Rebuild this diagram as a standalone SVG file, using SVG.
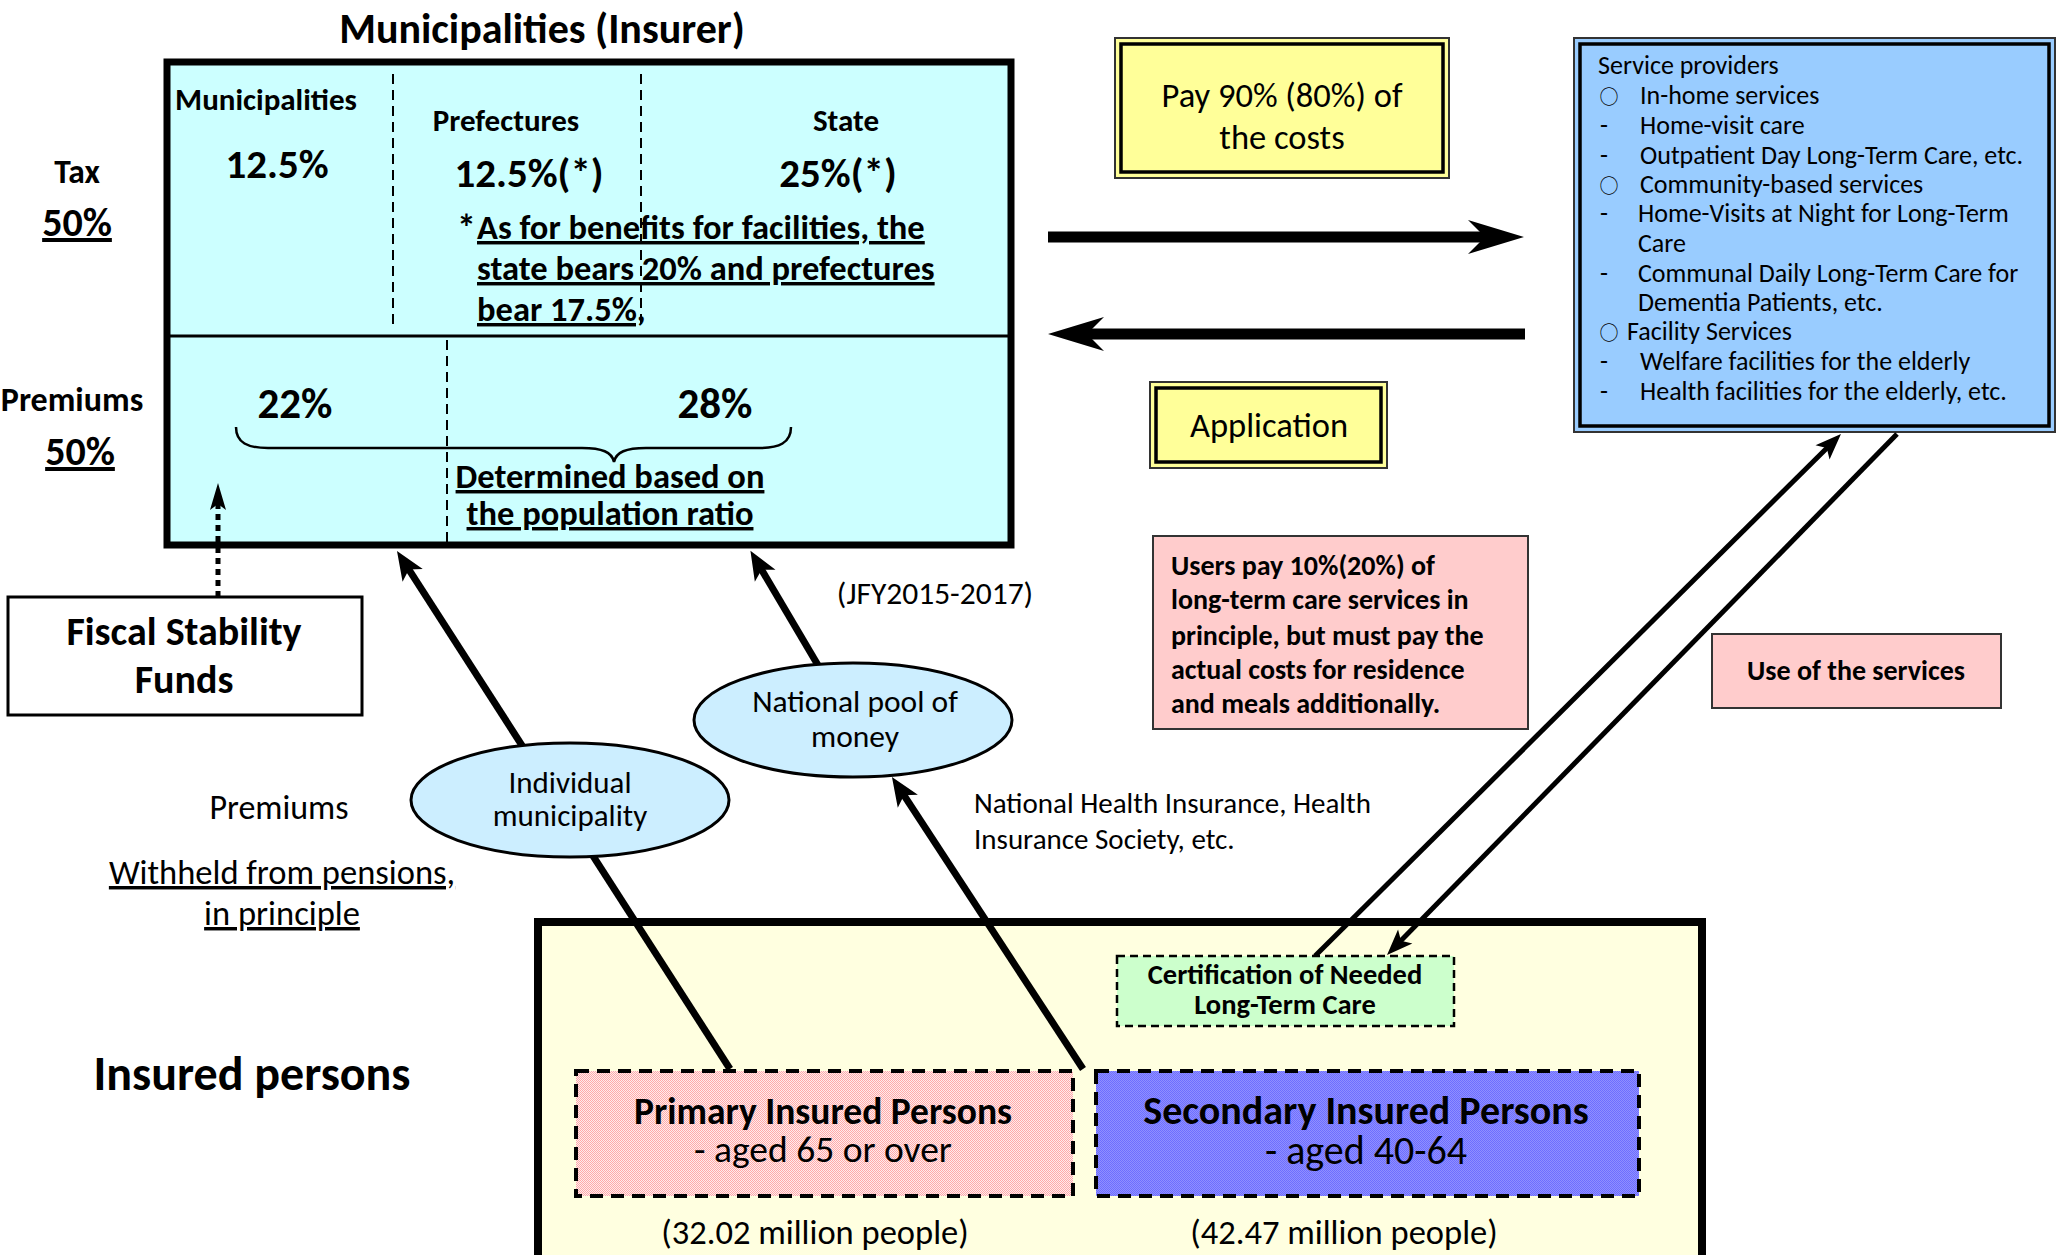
<svg xmlns="http://www.w3.org/2000/svg" width="2056" height="1255" viewBox="0 0 2056 1255">
<defs>
<style>
text{font-family:Carlito,"Liberation Sans Narrow",Lato,"Open Sans","Noto Sans",sans-serif;fill:#000}
.b{font-weight:bold}
.u{text-decoration:underline}
.m{text-anchor:middle}
.c{font-family:"Noto Sans CJK JP",sans-serif}
.thick{stroke:#000;stroke-width:7;fill:none}
.thin{stroke:#000;stroke-width:5;fill:none}
.dash{stroke:#000;stroke-width:2;stroke-dasharray:10 6;fill:none}
</style>
<marker id="ahBig" markerUnits="userSpaceOnUse" viewBox="-25 -18 60 36" markerWidth="60" markerHeight="36" refX="0" refY="0" orient="auto"><path d="M33,0 L-23,-17 L-6,0 L-23,17 Z" fill="#000"/></marker>
<marker id="ahMed" markerUnits="userSpaceOnUse" viewBox="-12 -14 36 28" markerWidth="36" markerHeight="28" refX="0" refY="0" orient="auto"><path d="M20,0 L-9,-12 L-2,0 L-9,12 Z" fill="#000"/></marker>
<marker id="ahThin" markerUnits="userSpaceOnUse" viewBox="-12 -12 32 24" markerWidth="32" markerHeight="24" refX="0" refY="0" orient="auto"><path d="M18,0 L-8,-10 L-2,0 L-8,10 Z" fill="#000"/></marker>
<marker id="ahDot" markerUnits="userSpaceOnUse" viewBox="-10 -10 32 20" markerWidth="32" markerHeight="20" refX="0" refY="0" orient="auto"><path d="M20,0 L-7,-8 L-1,0 L-7,8 Z" fill="#000"/></marker>
<pattern id="pinkTex" width="2" height="2" patternUnits="userSpaceOnUse"><rect width="2" height="2" fill="#ffecec"/><rect width="1" height="1" fill="#ffaaaa"/><rect x="1" y="1" width="1" height="1" fill="#ffaaaa"/></pattern>
<pattern id="blueTex" width="2" height="2" patternUnits="userSpaceOnUse"><rect width="2" height="2" fill="#9090ff"/><rect width="1" height="1" fill="#6e6eff"/><rect x="1" y="1" width="1" height="1" fill="#6e6eff"/></pattern>
</defs>
<rect width="2056" height="1255" fill="#fff"/>

<g id="insured-region">
<rect x="538" y="922" width="1164" height="360" fill="#ffffe0" stroke="#000" stroke-width="8"/>
<text class="b m" x="252" y="1090" font-size="48">Insured persons</text>
</g>

<g id="municipalities">
<text class="b m" x="542" y="43" font-size="42">Municipalities (Insurer)</text>
<rect x="167" y="62" width="844" height="483" fill="#ccffff" stroke="#000" stroke-width="7"/>
<line x1="167" y1="336" x2="1011" y2="336" stroke="#000" stroke-width="3"/>
<line class="dash" x1="393" y1="74" x2="393" y2="328"/>
<line class="dash" x1="641" y1="74" x2="641" y2="324"/>
<line class="dash" x1="447" y1="340" x2="447" y2="544"/>
<text class="b m" x="266" y="110" font-size="31">Municipalities</text>
<text class="b m" x="277" y="178" font-size="41">12.5%</text>
<text class="b m" x="506" y="131" font-size="31">Prefectures</text>
<text class="b m" x="529" y="187" font-size="41">12.5%(*)</text>
<text class="b m" x="846" y="131" font-size="31">State</text>
<text class="b m" x="838" y="187" font-size="41">25%(*)</text>
<text class="b" x="457" y="241" font-size="38">*</text>
<text class="b u" x="477" y="239" font-size="34.5">As for benefits for facilities, the</text>
<text class="b u" x="477" y="280" font-size="34.5">state bears 20% and prefectures</text>
<text class="b u" x="477" y="321" font-size="34.5">bear 17.5%,</text>
<text class="b m" x="295" y="418" font-size="43">22%</text>
<text class="b m" x="715" y="418" font-size="43">28%</text>
<path d="M236,427 C236,443 248,448 268,448 L582,448 C602,448 612,452 614,462 C616,452 626,448 646,448 L759,448 C779,448 791,443 791,427" fill="none" stroke="#000" stroke-width="2.5"/>
<text class="b u m" x="610" y="488" font-size="34.5">Determined based on</text>
<text class="b u m" x="610" y="525" font-size="34.5">the population ratio</text>
</g>

<g id="side-labels">
<text class="b m" x="77" y="183" font-size="33.5">Tax</text>
<text class="b u m" x="77" y="236" font-size="40">50%</text>
<text class="b m" x="72" y="411" font-size="34">Premiums</text>
<text class="b u m" x="80" y="465" font-size="40">50%</text>
</g>

<g id="fiscal-stability-funds">
<rect x="8" y="597" width="354" height="118" fill="#fff" stroke="#000" stroke-width="3"/>
<text class="b m" x="184" y="645" font-size="40">Fiscal Stability</text>
<text class="b m" x="184" y="693" font-size="40">Funds</text>
</g>

<g id="premium-labels">
<text class="m" x="279" y="819" font-size="34">Premiums</text>
<text class="u m" x="282" y="884" font-size="34.5">Withheld from pensions,</text>
<text class="u m" x="282" y="925" font-size="34.5">in principle</text>
<text class="m" x="935" y="604" font-size="31.5">(JFY2015-2017)</text>
<text x="974" y="813" font-size="29">National Health Insurance, Health</text>
<text x="974" y="849" font-size="29">Insurance Society, etc.</text>
</g>

<g id="pay-costs">
<rect x="1115" y="38" width="334" height="140" fill="#ffff99" stroke="#333" stroke-width="2"/>
<rect x="1121" y="44" width="322" height="128" fill="none" stroke="#000" stroke-width="3.5"/>
<text class="m" x="1282" y="107" font-size="34.5">Pay 90% (80%) of</text>
<text class="m" x="1282" y="149" font-size="34.5">the costs</text>
</g>

<g id="application">
<rect x="1150" y="382" width="237" height="86" fill="#ffff99" stroke="#333" stroke-width="2"/>
<rect x="1156" y="388" width="225" height="74" fill="none" stroke="#000" stroke-width="3.5"/>
<text class="m" x="1269" y="437" font-size="34.5">Application</text>
</g>

<g id="service-providers">
<rect x="1574" y="38" width="481" height="394" fill="#99ccff" stroke="#333" stroke-width="2"/>
<rect x="1580" y="44" width="469" height="382" fill="none" stroke="#000" stroke-width="3.5"/>
<g font-size="26">
<text x="1598" y="74">Service providers</text>
<text class="c m" x="1609" y="104" font-size="19">○</text><text x="1640" y="104">In-home services</text>
<text x="1600" y="134">-</text><text x="1640" y="134">Home-visit care</text>
<text x="1600" y="164">-</text><text x="1640" y="164">Outpatient Day Long-Term Care, etc.</text>
<text class="c m" x="1609" y="193" font-size="19">○</text><text x="1640" y="193">Community-based services</text>
<text x="1600" y="222">-</text><text x="1638" y="222">Home-Visits at Night for Long-Term</text>
<text x="1638" y="252">Care</text>
<text x="1600" y="282">-</text><text x="1638" y="282">Communal Daily Long-Term Care for</text>
<text x="1638" y="311">Dementia Patients, etc.</text>
<text class="c m" x="1609" y="340" font-size="19">○</text><text x="1627" y="340">Facility Services</text>
<text x="1600" y="370">-</text><text x="1640" y="370">Welfare facilities for the elderly</text>
<text x="1600" y="400">-</text><text x="1640" y="400">Health facilities for the elderly, etc.</text>
</g>
</g>

<g id="users-pay">
<rect x="1153" y="536" width="375" height="193" fill="#ffcccc" stroke="#333" stroke-width="2"/>
<g font-size="28">
<text class="b" x="1171" y="575">Users pay 10%(20%) of</text>
<text class="b" x="1171" y="609">long-term care services in</text>
<text class="b" x="1171" y="645">principle, but must pay the</text>
<text class="b" x="1171" y="679">actual costs for residence</text>
<text class="b" x="1171" y="713">and meals additionally.</text>
</g>
</g>

<g id="use-of-services">
<rect x="1712" y="634" width="289" height="74" fill="#ffcccc" stroke="#333" stroke-width="2"/>
<text class="b m" x="1856" y="680" font-size="28">Use of the services</text>
</g>

<g id="connectors">
<line x1="1048" y1="237" x2="1491" y2="237" stroke="#000" stroke-width="11" marker-end="url(#ahBig)"/>
<line x1="1525" y1="334" x2="1081" y2="334" stroke="#000" stroke-width="11" marker-end="url(#ahBig)"/>
<line class="thick" x1="730" y1="1069" x2="407.8" y2="567.8" marker-end="url(#ahMed)"/>
<line class="thick" x1="1083" y1="1069" x2="902.9" y2="793.7" marker-end="url(#ahMed)"/>
<line class="thick" x1="822" y1="672" x2="760.6" y2="568" marker-end="url(#ahMed)"/>
<line class="thin" x1="1315" y1="956" x2="1828.2" y2="446.7" marker-end="url(#ahThin)"/>
<line class="thin" x1="1897" y1="434" x2="1399.6" y2="942.1" marker-end="url(#ahThin)"/>
<line x1="218" y1="597" x2="218" y2="503" stroke="#000" stroke-width="5" stroke-dasharray="6 5" marker-end="url(#ahDot)"/>
</g>

<g id="individual-municipality">
<ellipse cx="570" cy="800" rx="159" ry="57" fill="#cceeff" stroke="#000" stroke-width="3"/>
<text class="m" x="570" y="793" font-size="31">Individual</text>
<text class="m" x="570" y="826" font-size="31">municipality</text>
</g>

<g id="national-pool">
<ellipse cx="853" cy="720" rx="159" ry="57" fill="#cceeff" stroke="#000" stroke-width="3"/>
<text class="m" x="855" y="712" font-size="31.5">National pool of</text>
<text class="m" x="855" y="747" font-size="31.5">money</text>
</g>

<g id="certification">
<rect x="1117" y="956" width="337" height="70" fill="#ccffcc" stroke="#000" stroke-width="2.5" stroke-dasharray="8 5"/>
<text class="b m" x="1285" y="984" font-size="28.5">Certification of Needed</text>
<text class="b m" x="1285" y="1014" font-size="28.5">Long-Term Care</text>
</g>

<g id="primary-insured">
<rect x="576" y="1071" width="497" height="125" fill="url(#pinkTex)" stroke="#000" stroke-width="4" stroke-dasharray="13 8"/>
<text class="b m" x="823" y="1124" font-size="37.5">Primary Insured Persons</text>
<text class="m" x="823" y="1162" font-size="37.5">- aged 65 or over</text>
<text class="m" x="815" y="1244" font-size="34.5">(32.02 million people)</text>
</g>

<g id="secondary-insured">
<rect x="1096" y="1071" width="543" height="125" fill="url(#blueTex)" stroke="#000" stroke-width="4" stroke-dasharray="13 8"/>
<text class="b m" x="1366" y="1124" font-size="40">Secondary Insured Persons</text>
<text class="m" x="1366" y="1164" font-size="40">- aged 40-64</text>
<text class="m" x="1344" y="1244" font-size="34.5">(42.47 million people)</text>
</g>
</svg>
